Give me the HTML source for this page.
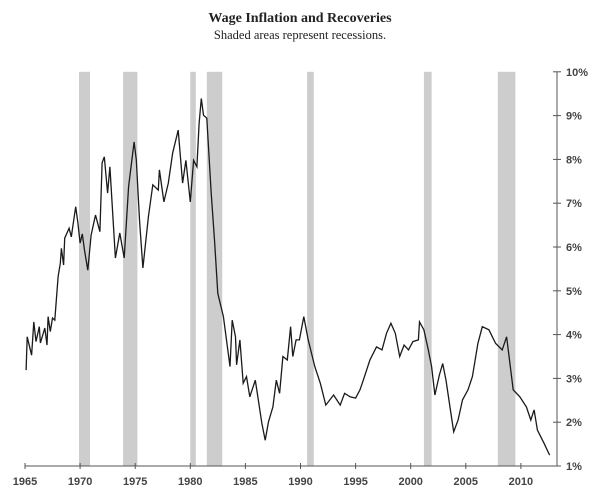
<!DOCTYPE html>
<html><head><meta charset="utf-8"><style>
body{margin:0;background:#fff;}
svg{display:block;font-family:"Liberation Sans",sans-serif;}
</style></head><body>
<svg id="chart" width="600" height="494">
<text x="300" y="22" text-anchor="middle" font-family="Liberation Serif,serif" font-weight="bold" font-size="14" fill="#222">Wage Inflation and Recoveries</text>
<text x="300" y="39" text-anchor="middle" font-family="Liberation Serif,serif" font-size="12.5" fill="#222">Shaded areas represent recessions.</text>
<g id="rec"></g>
<g id="axes"></g>
<path id="line" fill="none" stroke="#1a1a1a" stroke-width="1.3"></path>
</svg>
<script>
const recStart=[1969.9,1973.9,1980.0,1981.5,1990.6,2001.2,2007.9];
const recEnd=[1970.9,1975.2,1980.5,1982.9,1991.2,2001.9,2009.5];
const xTicks=[1965,1970,1975,1980,1985,1990,1995,2000,2005,2010];
const yTicks=[1,2,3,4,5,6,7,8,9,10];
const years=[1965.1,1965.2,1965.6,1965.8,1966.0,1966.3,1966.4,1966.8,1967.0,1967.1,1967.3,1967.5,1967.7,1968.0,1968.2,1968.3,1968.5,1968.6,1969.0,1969.2,1969.6,1969.8,1970.0,1970.2,1970.4,1970.7,1971.0,1971.4,1971.8,1972.0,1972.2,1972.5,1972.7,1973.2,1973.6,1974.0,1974.4,1974.9,1975.1,1975.4,1975.7,1976.2,1976.6,1977.1,1977.2,1977.6,1978.0,1978.4,1978.9,1979.3,1979.6,1980.0,1980.3,1980.6,1980.8,1981.0,1981.2,1981.5,1981.9,1982.2,1982.5,1983.0,1983.6,1983.8,1984.1,1984.2,1984.5,1984.8,1985.1,1985.4,1985.9,1986.5,1986.8,1987.1,1987.5,1987.8,1988.1,1988.4,1988.8,1989.1,1989.3,1989.6,1989.9,1990.3,1990.7,1991.3,1991.8,1992.3,1993.0,1993.6,1994.0,1994.5,1995.0,1995.4,1995.7,1996.3,1996.9,1997.4,1997.8,1998.2,1998.6,1999.0,1999.4,1999.8,2000.2,2000.7,2000.8,2001.2,2001.6,2001.9,2002.2,2002.6,2002.9,2003.2,2003.6,2003.9,2004.3,2004.7,2005.2,2005.6,2006.1,2006.5,2007.1,2007.7,2008.3,2008.7,2009.3,2009.9,2010.5,2010.9,2011.2,2011.5,2012.1,2012.6];
const values=[3.19,3.95,3.53,4.29,3.84,4.18,3.81,4.15,3.76,4.41,4.07,4.38,4.33,5.32,5.63,5.97,5.59,6.2,6.43,6.23,6.92,6.55,6.09,6.3,5.93,5.47,6.27,6.73,6.35,7.92,8.06,7.23,7.83,5.75,6.32,5.75,7.38,8.4,7.99,6.58,5.52,6.69,7.42,7.3,7.76,7.03,7.46,8.15,8.67,7.46,7.98,7.03,7.98,7.83,8.82,9.39,9.01,8.94,7.23,6.16,4.94,4.41,3.27,4.33,3.95,3.31,3.88,2.89,3.04,2.58,2.96,1.97,1.59,2.01,2.35,2.96,2.66,3.5,3.42,4.18,3.5,3.88,3.88,4.41,3.88,3.27,2.89,2.39,2.62,2.39,2.66,2.58,2.55,2.74,2.96,3.42,3.72,3.65,4.03,4.26,4.03,3.5,3.76,3.65,3.84,3.88,4.29,4.11,3.65,3.27,2.62,3.08,3.34,2.96,2.28,1.78,2.05,2.51,2.74,3.04,3.8,4.18,4.11,3.8,3.65,3.95,2.74,2.58,2.35,2.05,2.28,1.82,1.52,1.25];
const NS='http://www.w3.org/2000/svg';
const X=y=>25+(y-1965)*11.02;
const Y=v=>466-(v-1)*43.8;
function mk(t,a,p){const e=document.createElementNS(NS,t);for(const k in a)e.setAttribute(k,a[k]);p.appendChild(e);return e;}
const rec=document.getElementById('rec'),ax=document.getElementById('axes');
for(let i=0;i<recStart.length;i++){
  const r=mk('rect',{x:X(recStart[i]),y:Y(10),width:X(recEnd[i])-X(recStart[i]),height:Y(1)-Y(10),fill:'#cdcdcd'},rec);
  
  
}
const xl=mk('line',{x1:X(1965),x2:557,y1:Y(1),y2:Y(1),stroke:'#555','stroke-width':1},ax);


const yl=mk('line',{x1:557,x2:557,y1:Y(10),y2:Y(1),stroke:'#555','stroke-width':1},ax);


xTicks.forEach(t=>{
  mk('line',{x1:X(t),x2:X(t),y1:Y(1)-3,y2:Y(1)+3,stroke:'#555'},ax);
  const tx=mk('text',{x:X(t),y:Y(1)+19,'text-anchor':'middle','font-size':11,'font-weight':'bold',fill:'#444'},ax);
  tx.textContent=t;
  
  
});
yTicks.forEach(t=>{
  mk('line',{x1:553,x2:561,y1:Y(t),y2:Y(t),stroke:'#555'},ax);
  const tx=mk('text',{x:566,y:Y(t)+4,'font-size':11,'font-weight':'bold',fill:'#444'},ax);
  tx.textContent=t+'%';
  
  
});
document.getElementById('line').setAttribute('d',years.map((y,i)=>(i?'L':'M')+X(y).toFixed(1)+','+Y(values[i]).toFixed(1)).join(''));
</script>
</body></html>
